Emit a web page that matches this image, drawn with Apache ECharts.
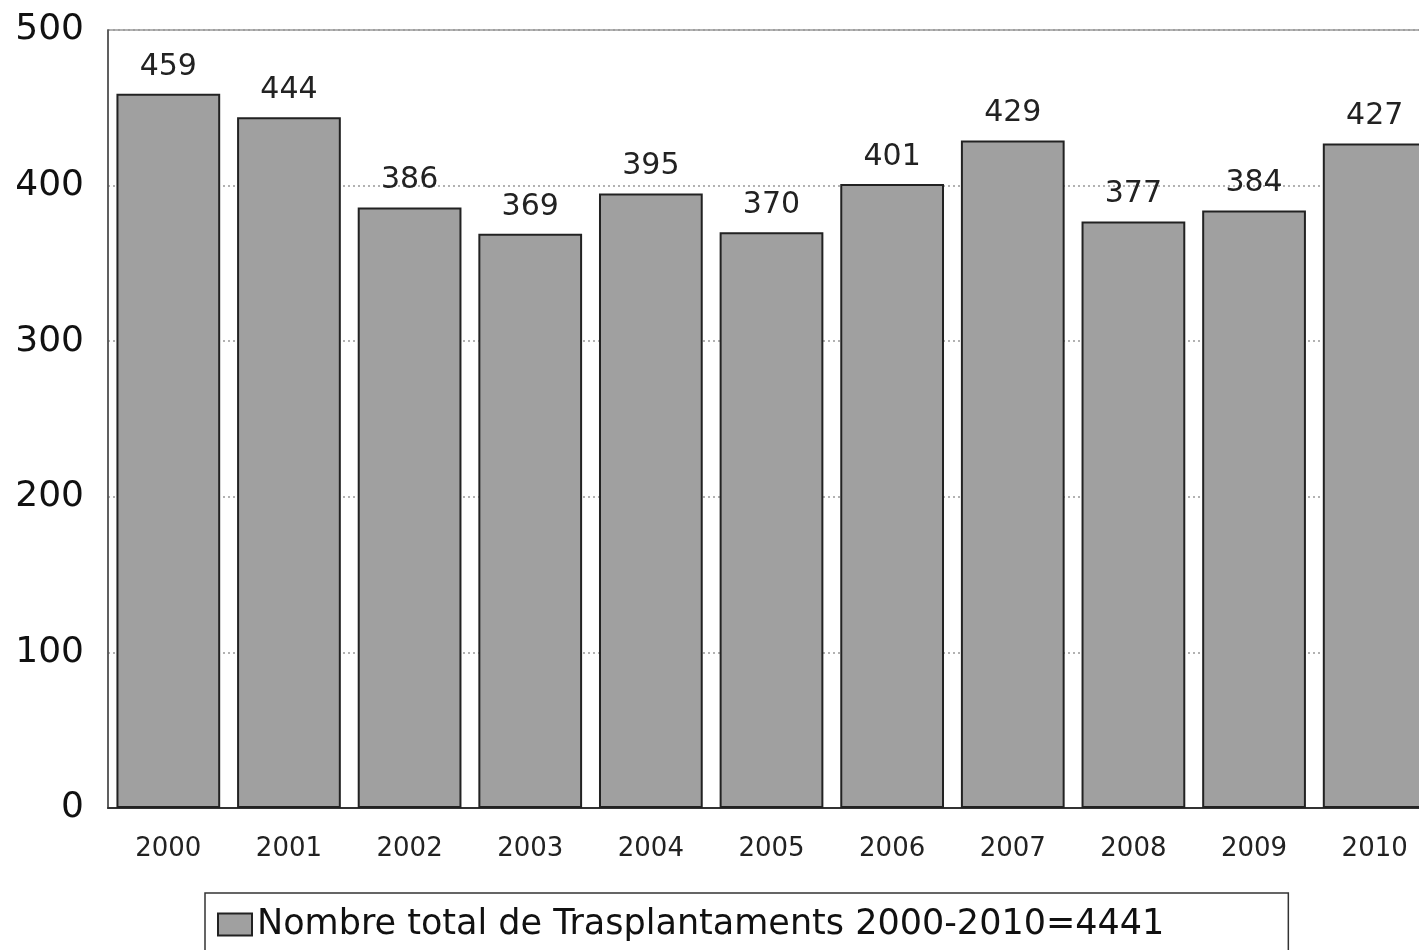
<!DOCTYPE html>
<html>
<head>
<meta charset="utf-8">
<script src="https://cdn.jsdelivr.net/npm/echarts@6/dist/echarts.min.js"></script>
<style>
html,body{margin:0;padding:0;background:#fff;overflow:hidden;width:1419px;height:950px;}
#chart{width:1436px;height:950px;}
</style>
</head>
<body>
<div id="chart"></div>
<script>
const years = ['2000','2001','2002','2003','2004','2005','2006','2007','2008','2009','2010'];
const transplants = [459,444,386,369,395,370,401,429,377,384,427];
const seriesName = 'Nombre total de Trasplantaments 2000-2010=4441';
const yTicks = {min:0, max:500, interval:100};

const FONT = '"DejaVu Sans", "Liberation Sans", Arial, sans-serif';
const chart = echarts.init(document.getElementById('chart'), null, {renderer:'canvas'});
chart.setOption({
  backgroundColor:'#fff',
  animation:false,
  textStyle:{fontFamily:FONT},
  grid:{left:108, top:30, width:1327, height:778, show:true, borderColor:'#999', borderWidth:1.5, backgroundColor:'transparent'},
  legend:{
    show:true, left:205, top:893,
    padding:[14,124,30,12],
    borderColor:'#333', borderWidth:1.5,
    itemWidth:34, itemHeight:22, itemGap:6,
    textStyle:{fontSize:35, color:'#111', fontFamily:FONT},
    data:[{name:seriesName, icon:'rect'}]
  },
  xAxis:{
    type:'category', data:years,
    axisLine:{show:true, lineStyle:{color:'#333', width:2}},
    axisTick:{show:false},
    axisLabel:{fontSize:26, color:'#222', margin:28, fontFamily:FONT}
  },
  yAxis:{
    type:'value', min:yTicks.min, max:yTicks.max, interval:yTicks.interval,
    axisLine:{show:true, lineStyle:{color:'#444', width:1.5}},
    axisTick:{show:false},
    axisLabel:{fontSize:36, color:'#111', margin:24, fontFamily:FONT},
    splitLine:{show:true, lineStyle:{color:'#999', type:[2,3], width:1.5}}
  },
  series:[{
    name:seriesName, type:'bar', data:transplants,
    barCategoryGap:'14%',
    itemStyle:{color:'#a0a0a0', borderColor:'#222', borderWidth:2},
    label:{show:true, position:'top', distance:12, fontSize:30, color:'#222', fontFamily:FONT}
  }]
});
</script>
</body>
</html>
